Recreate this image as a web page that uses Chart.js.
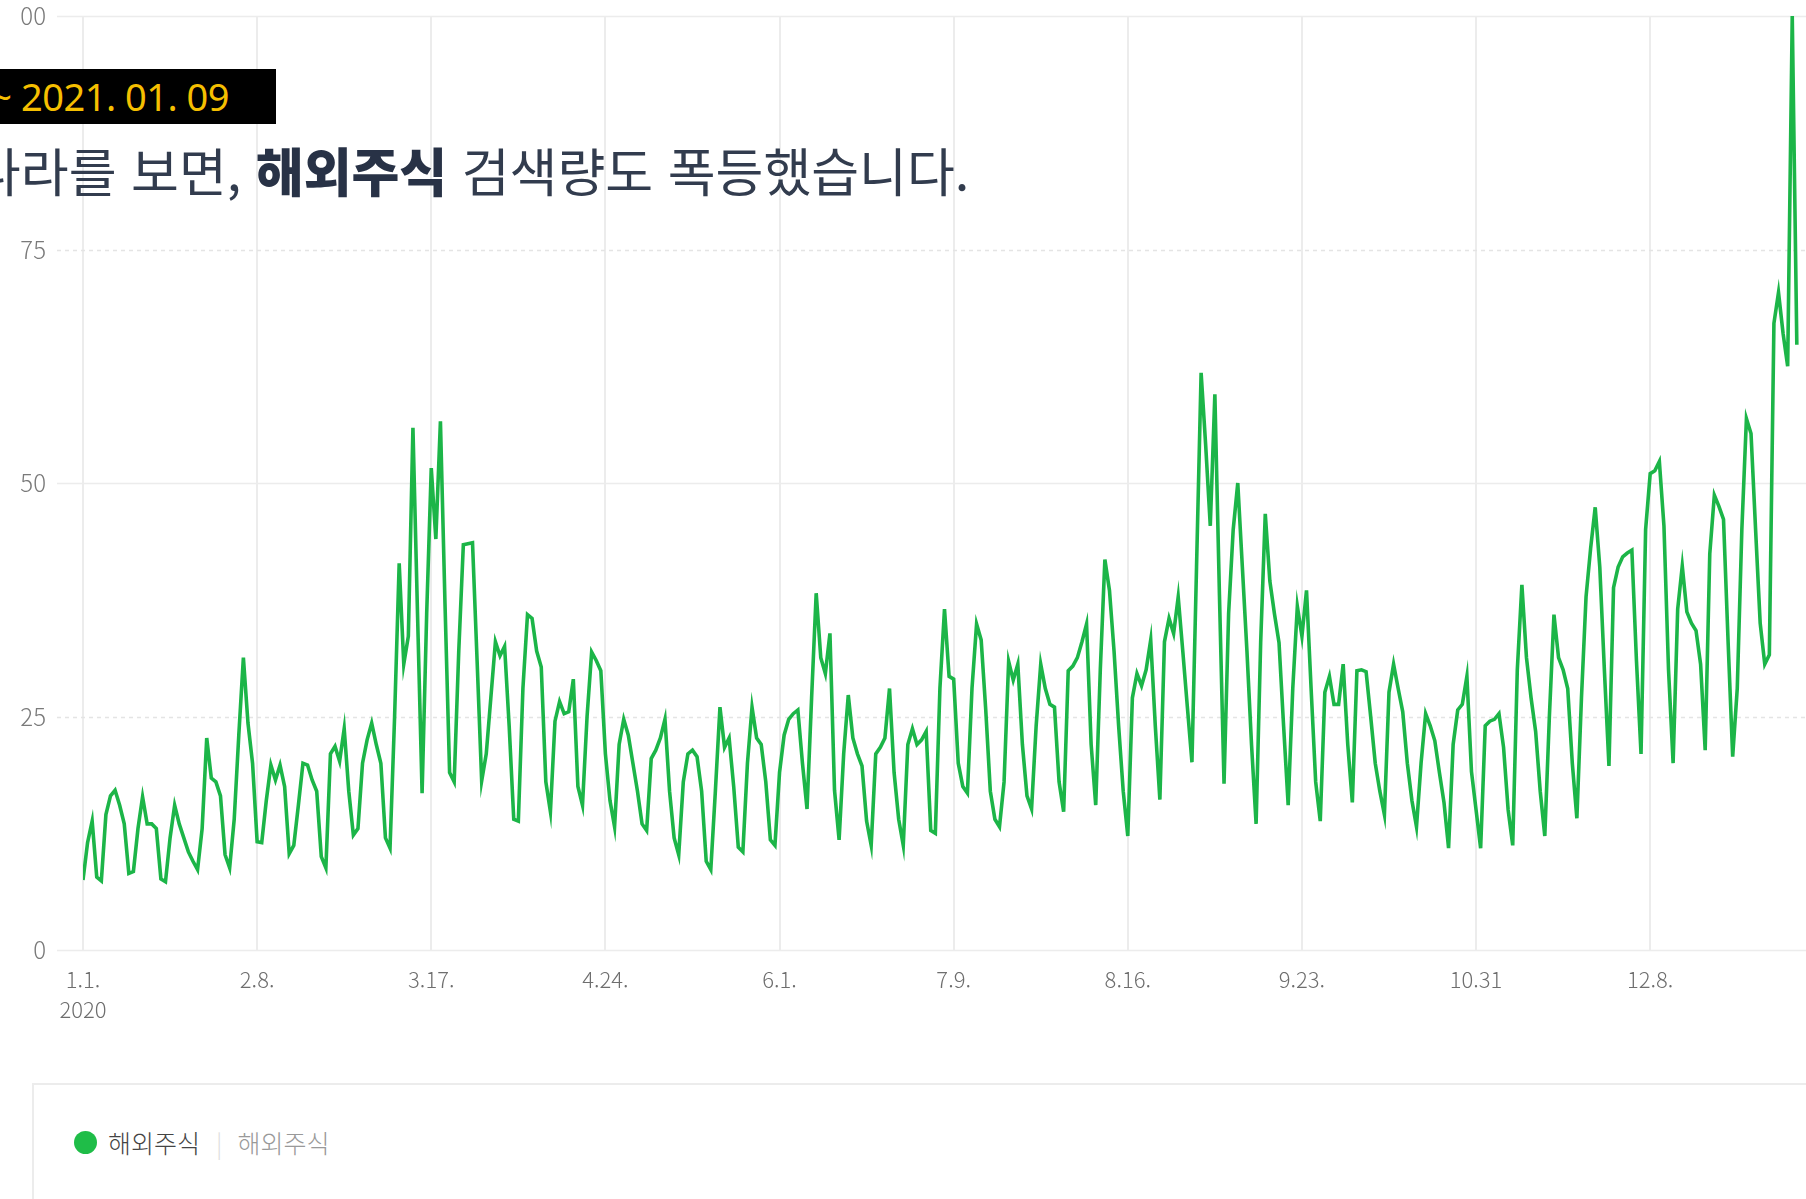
<!DOCTYPE html>
<html lang="ko">
<head>
<meta charset="utf-8">
<title>해외주식 검색량 추이</title>
<script src="https://cdn.jsdelivr.net/npm/chart.js@4.4.1/dist/chart.umd.min.js"></script>
<style>
  html, body {
    margin: 0; padding: 0; background: #fff;
    width: 1806px; height: 1199px; overflow: hidden; position: relative;
    font-family: "Noto Sans CJK KR", "Noto Sans", sans-serif;
  }
  #chart-wrap {
    position: absolute; left: 0; top: 0; width: 1806px; height: 1040px;
    clip-path: inset(0 0 0 19px);
  }
  .period {
    position: absolute; left: 0; top: 69px; width: 276px; height: 55px;
    background: #000; overflow: hidden;
  }
  .period span {
    position: absolute; right: 47px; top: 0;
    color: #f5bf00; font-size: 38px; line-height: 55px; white-space: nowrap;
    letter-spacing: -0.5px;
    font-family: "Noto Sans", "Noto Sans CJK KR", sans-serif;
  }
  .headline {
    position: absolute; left: -27px; top: 144px;
    font-size: 52px; line-height: 52px; color: #323c4e; white-space: nowrap;
  }
  .headline b { font-weight: 900; color: #283246; }
  .legend-box {
    position: absolute; left: 32px; top: 1083px; width: 1800px; height: 200px;
    border: 2px solid #ececec; box-sizing: border-box;
  }
  .legend-item {
    position: absolute; left: 40px; top: 39px; height: 36px;
    display: flex; align-items: center; font-size: 25px; font-weight: 300; white-space: nowrap;
  }
  .legend-item .dot {
    width: 23px; height: 23px; border-radius: 50%; background: #1fbd48; margin-right: 11px;
  }
  .legend-item .name { color: #444; }
  .legend-item .sep { color: #ddd; margin: 0 15px 0 16px; }
  .legend-item .sub { color: #999; }
</style>
</head>
<body>

<div id="chart-wrap"><canvas id="trend" width="1806" height="1040"></canvas></div>

<div class="period"><span>~ 2021. 01. 09</span></div>
<div class="headline">나라를 보면, <b>해외주식</b> 검색량도 폭등했습니다.</div>

<div class="legend-box">
  <div class="legend-item">
    <span class="dot"></span><span class="name">해외주식</span><span class="sep">|</span><span class="sub">해외주식</span>
  </div>
</div>

<script>
// Daily search index, 2020.01.01 ~ 2021.01.09 (one array per month)
const jan2020 = [7.5, 11.5, 13.8, 7.8, 7.4, 14.5, 16.5, 17.1, 15.5, 13.5, 8.2, 8.4, 13, 16.4, 13.5, 13.5,
                 13, 7.6, 7.3, 12, 15.5, 13.5, 12, 10.5, 9.5, 8.6, 13, 22.7, 18.4, 18, 16.5];
const feb2020 = [10.2, 8.8, 14, 23, 31.3, 24.3, 20, 11.6, 11.5, 16, 19.8, 18.2, 19.8, 17.5, 10.3,
                 11.2, 15.5, 20, 19.8, 18.2, 17, 10, 8.8, 21, 21.8, 20.2, 23.7, 17, 12.3];
const mar2020 = [13, 20, 22.5, 24.3, 22, 20, 12, 10.9, 25, 41.4, 30.6, 33.6, 55.9, 36, 16.8, 36,
                 51.6, 44, 56.6, 37, 19, 18, 32, 43.4, 43.5, 43.6, 31, 18.1, 21, 27, 33];
const apr2020 = [31.5, 32.5, 24, 14, 13.8, 28, 35.9, 35.5, 32, 30.3, 18, 14.8, 24.5, 26.6, 25.3,
                 25.5, 29, 17.5, 15.5, 25, 31.9, 31, 29.9, 21, 16, 13.2, 22, 24.7, 23, 20];
const may2020 = [17, 13.5, 12.8, 20.5, 21.4, 22.7, 24.7, 17, 12, 10.2, 18, 21, 21.4, 20.7, 17, 9.5,
                 8.6, 17, 26, 21.7, 22.7, 17.5, 11, 10.5, 20, 26, 22.7, 22, 18, 11.8, 11.2];
const jun2020 = [19, 23, 24.7, 25.3, 25.7, 20, 15.1, 27, 38.2, 31.3, 29.6, 33.9, 17.1, 11.8, 21,
                 27.3, 22.7, 21, 19.7, 13.8, 11.2, 21, 21.7, 22.7, 28, 19, 14, 11.2, 22, 23.7];
const jul2020 = [22, 22.5, 23.4, 12.8, 12.5, 28, 36.5, 29.3, 29, 20, 17.5, 16.8, 28, 34.9, 33.2, 25.7,
                 17, 14, 13.2, 18, 30.9, 28.9, 30.6, 22, 16.5, 15.1, 24, 30.6, 28, 26.3, 26];
const aug2020 = [18, 14.8, 29.9, 30.4, 31.3, 33, 34.9, 22, 15.5, 30, 41.8, 38.5, 32, 24, 17, 12.2,
                 27, 29.6, 28.3, 30, 33.2, 24, 16.1, 33, 35.5, 33.9, 37.8, 32, 26, 20.1, 41];
const sep2020 = [61.8, 54, 45.4, 59.5, 38, 17.8, 36, 45, 50, 41, 32, 22, 13.5, 33, 46.7, 39.5, 36,
                 32.9, 24, 15.5, 28, 36.8, 33.6, 38.5, 28, 18, 13.8, 27.6, 29.3, 26.3];
const oct2020 = [26.3, 30.6, 22, 15.8, 29.9, 30, 29.8, 25, 20, 17, 14.5, 27.6, 30.6, 28, 25.5, 20,
                 16, 13.2, 20, 25.3, 24, 22.4, 19, 15.8, 10.9, 22, 25.7, 26.3, 29.3, 19.1, 15];
const nov2020 = [10.9, 24, 24.5, 24.7, 25.3, 21.7, 15, 11.2, 30, 39.1, 31.3, 27, 23.4, 17, 12.2, 25,
                 35.9, 31.3, 30, 28, 20, 14.1, 27, 37.8, 43, 47.4, 41, 30, 19.7, 38.8];
const dec2020 = [41, 42.1, 42.5, 42.8, 31, 21, 45, 51, 51.3, 52.3, 45.4, 30, 20, 36.5, 41.1, 36.2,
                 35, 34.2, 30.6, 21.4, 42.4, 48.7, 47.5, 46.1, 33, 20.7, 28, 45, 56.9, 55.3, 45];
const jan2021 = [35, 30.6, 31.6, 67.1, 70.4, 66, 62.5, 100, 64.8];

// x axis: day offsets from 2020.01.01 and their labels
const tickDays   = [0, 38, 76, 114, 152, 190, 228, 266, 304, 342];
const tickLabels = ['1.1.', '2.8.', '3.17.', '4.24.', '6.1.', '7.9.', '8.16.', '9.23.', '10.31', '12.8.'];
const yearLabel  = '2020';
const yTicks     = [0, 25, 50, 75, 100];

const seriesName = '해외주식';
const lineGreen  = '#1cb548';

const dailyIndex = [].concat(jan2020, feb2020, mar2020, apr2020, may2020, jun2020,
                             jul2020, aug2020, sep2020, oct2020, nov2020, dec2020, jan2021);
const points = dailyIndex.map((v, i) => ({ x: i, y: v }));

// horizontal grid: solid at 0/50/100, dashed at 25/75
const hGrid = {
  id: 'hGrid',
  beforeDatasetsDraw(chart) {
    const { ctx, chartArea, scales } = chart;
    ctx.save();
    yTicks.forEach(v => {
      const y = Math.round(scales.y.getPixelForValue(v)) + 0.5;
      ctx.beginPath();
      ctx.lineWidth = 1.5;
      ctx.strokeStyle = v % 50 === 0 ? '#ececec' : '#e4e4e4';
      ctx.setLineDash(v % 50 === 0 ? [] : [4, 4]);
      ctx.moveTo(chartArea.left - 26, y);
      ctx.lineTo(chartArea.right, y);
      ctx.stroke();
    });
    ctx.restore();
  }
};

const fontFamily = '"Noto Sans CJK KR", "Noto Sans", sans-serif';

new Chart(document.getElementById('trend'), {
  type: 'line',
  data: {
    datasets: [{
      label: seriesName,
      data: points,
      borderColor: lineGreen,
      borderWidth: 3.6,
      pointRadius: 0,
      tension: 0,
      fill: false
    }]
  },
  options: {
    responsive: false,
    animation: false,
    layout: { padding: { top: 16, right: 0, bottom: 0, left: 0 } },
    plugins: { legend: { display: false }, tooltip: { enabled: false } },
    scales: {
      x: {
        type: 'linear',
        min: 0,
        max: 376,
        afterBuildTicks: s => { s.ticks = tickDays.map(v => ({ value: v })); },
        afterFit: s => { s.height = 90; },
        ticks: {
          autoSkip: false,
          maxRotation: 0,
          padding: 15,
          color: '#6e6e6e',
          font: { family: fontFamily, size: 22, weight: '300', lineHeight: 1.35 },
          callback: v => {
            const i = tickDays.indexOf(v);
            return i === 0 ? [tickLabels[i], yearLabel] : tickLabels[i];
          }
        },
        grid: { color: '#ececec', lineWidth: 2, drawTicks: false },
        border: { display: false }
      },
      y: {
        min: 0,
        max: 100,
        afterBuildTicks: s => { s.ticks = yTicks.map(v => ({ value: v })); },
        afterFit: s => { s.width = 83; s.paddingTop = 0; s.paddingBottom = 0; },
        ticks: { padding: 29, color: '#7a7a7a', font: { family: fontFamily, size: 24, weight: '300' } },
        grid: { display: false },
        border: { display: false }
      }
    }
  },
  plugins: [hGrid]
});
</script>
</body>
</html>
